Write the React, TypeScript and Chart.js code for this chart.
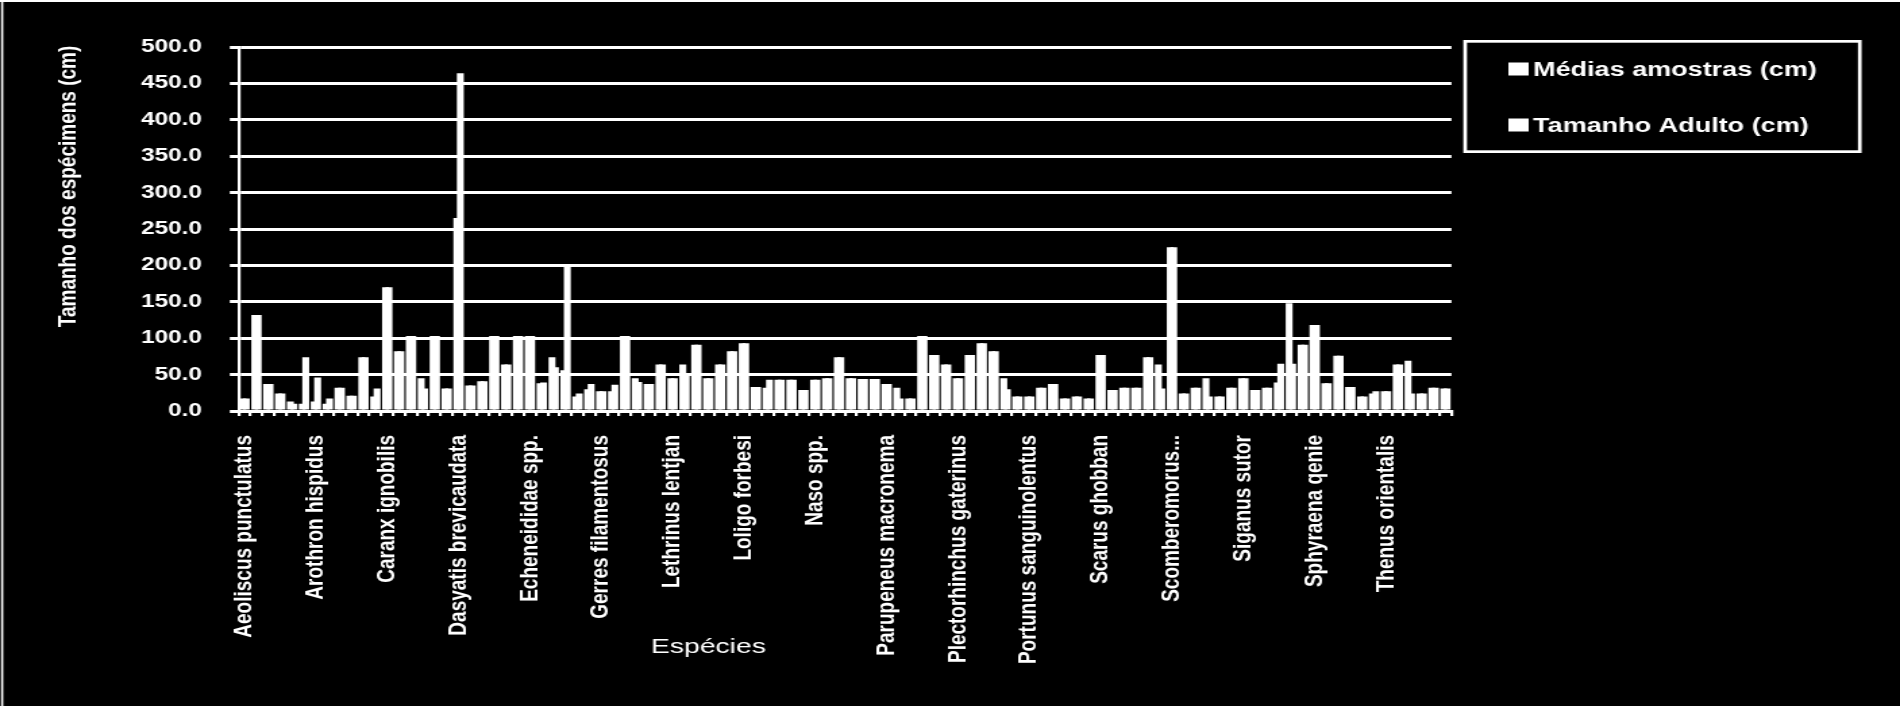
import React, { useEffect, useRef } from "react";
import { Chart, registerables } from "chart.js";

Chart.register(...registerables);

// ---- data ----
const speciesLabels = [
  "Aeoliscus punctulatus",
  "Arothron hispidus",
  "Caranx ignobilis",
  "Dasyatis brevicaudata",
  "Echeneididae spp.",
  "Gerres filamentosus",
  "Lethrinus lentjan",
  "Loligo forbesi",
  "Naso spp.",
  "Parupeneus macronema",
  "Plectorhinchus gaterinus",
  "Portunus sanguinolentus",
  "Scarus ghobban",
  "Scomberomorus...",
  "Siganus sutor",
  "Sphyraena qenie",
  "Thenus orientalis",
];
const labelEvery = 6;

const mediasAmostras = [
  17, 132, 37, 24, 13, 10, 13, 10, 32, 21,
  74, 20, 170, 82, 103, 45, 103, 31, 265, 35,
  41, 103, 64, 103, 103, 38, 74, 56, 20, 30,
  27, 27, 103, 45, 37, 64, 45, 64, 91, 45,
  64, 82, 93, 33, 32, 43, 43, 29, 43, 45,
  74, 45, 44, 44, 37, 32, 17, 103, 77, 64,
  45, 77, 93, 82, 45, 20, 20, 32, 37, 17,
  20, 17, 77, 29, 32, 32, 74, 64, 225, 24,
  32, 45, 20, 32, 45, 29, 32, 39, 148, 91,
  118, 38, 76, 33, 20, 24, 27, 64, 69, 24,
  32, 31,
];
const tamanhoAdulto = [
  17, 132, 37, 24, 10, 74, 46, 17, 32, 21,
  74, 31, 170, 82, 103, 31, 103, 31, 464, 35,
  41, 103, 64, 103, 103, 39, 60, 198, 24, 37,
  27, 36, 103, 40, 37, 64, 45, 50, 91, 45,
  64, 82, 93, 33, 43, 43, 43, 29, 43, 45,
  74, 45, 44, 44, 37, 17, 17, 103, 77, 64,
  45, 77, 93, 82, 30, 20, 20, 32, 37, 17,
  20, 17, 77, 29, 32, 32, 74, 31, 225, 24,
  32, 20, 20, 32, 45, 29, 32, 65, 65, 91,
  118, 38, 76, 33, 20, 27, 27, 64, 24, 24,
  32, 31,
];
const seriesNames = ["Médias amostras (cm)", "Tamanho Adulto (cm)"];
const yTitle = "Tamanho dos espécimens (cm)";
const xTitle = "Espécies";
const yMin = 0;
const yMax = 500;
const yStep = 50;

// ---- layout (logical canvas px; canvas is stretched horizontally by CSS) ----
const FULL_W = 1900;
const FULL_H = 708;
const STRETCH = 1.35;
const W = Math.round(FULL_W / STRETCH);
const FONT = "'Liberation Sans', Arial, Helvetica, sans-serif";
const PLOT_LEFT = 176.7;
const PLOT_RIGHT = 1074.8;
const PLOT_TOP = 47;
const PLOT_BOTTOM = 411;

const categories = mediasAmostras.map((_, i) =>
  i % labelEvery === 0 && speciesLabels[i / labelEvery] ? speciesLabels[i / labelEvery] : ""
);

const decorPlugin = {
  id: "decor",
  afterDraw(chart: any) {
    const ctx: CanvasRenderingContext2D = chart.ctx;
    ctx.save();
    ctx.fillStyle = "#ffffff";
    ctx.strokeStyle = "#ffffff";
    // outer frame
    ctx.fillRect(0.8, 0, 1.6, FULL_H);
    ctx.fillRect(0, 0, W, 2);
    ctx.fillRect(0, FULL_H - 2, W, 2);

    // x title
    ctx.font = `21px ${FONT}`;
    ctx.textAlign = "left";
    ctx.textBaseline = "alphabetic";
    ctx.fillText(xTitle, 482, 653);

    // y title
    ctx.save();
    ctx.translate(56, 186.5);
    ctx.rotate(-Math.PI / 2);
    ctx.font = `bold 19px ${FONT}`;
    ctx.textAlign = "center";
    ctx.textBaseline = "alphabetic";
    ctx.fillText(yTitle, 0, 0);
    ctx.restore();

    // legend
    ctx.lineWidth = 2.7;
    ctx.strokeRect(1085, 41.35, 292.2, 110.3);
    ctx.font = `bold 20px ${FONT}`;
    ctx.textAlign = "left";
    const baselines = [76, 132];
    chart.data.datasets.forEach((ds: any, k: number) => {
      const b = baselines[k];
      ctx.fillStyle = ds.backgroundColor;
      ctx.fillRect(1117, b - 13.5, 15, 13);
      ctx.fillStyle = "#ffffff";
      ctx.fillText(ds.label, 1135.3, b);
    });
    ctx.restore();
  },
};

export default function App() {
  const ref = useRef<HTMLCanvasElement | null>(null);

  useEffect(() => {
    document.body.style.margin = "0";
    document.body.style.background = "#000";
    const canvas = ref.current;
    if (!canvas) return;
    const chart = new Chart(canvas, {
      type: "bar",
      data: {
        labels: categories,
        datasets: [
          {
            label: seriesNames[0],
            data: mediasAmostras,
            backgroundColor: "#ffffff",
            borderWidth: 0,
            categoryPercentage: 0.58,
            barPercentage: 2.0,
          },
          {
            label: seriesNames[1],
            data: tamanhoAdulto,
            backgroundColor: "#ffffff",
            borderWidth: 0,
            categoryPercentage: 0.58,
            barPercentage: 2.0,
          },
        ],
      },
      options: {
        responsive: false,
        animation: false,
        devicePixelRatio: 1,
        layout: {
          padding: { top: PLOT_TOP, right: W - PLOT_RIGHT, bottom: 0, left: 0 },
        },
        plugins: {
          legend: { display: false },
          tooltip: { enabled: false },
          title: { display: false },
        },
        scales: {
          x: {
            type: "category",
            offset: true,
            grid: {
              display: true,
              offset: true,
              drawOnChartArea: false,
              drawTicks: true,
              tickLength: 5,
              color: "#ffffff",
              lineWidth: 2.2,
            },
            border: { display: true, color: "#ffffff", width: 3 },
            ticks: {
              autoSkip: false,
              minRotation: 90,
              maxRotation: 90,
              padding: 19,
              color: "#ffffff",
              font: { family: FONT, size: 19, weight: "bold" },
              callback: (_v: any, i: number) => categories[i],
            },
            afterFit: (s: any) => {
              s.height = FULL_H - PLOT_BOTTOM;
            },
          },
          y: {
            min: yMin,
            max: yMax,
            ticks: {
              stepSize: yStep,
              padding: 20.6,
              color: "#ffffff",
              font: { family: FONT, size: 18, weight: "bold" },
              callback: (v: any) => Number(v).toFixed(1),
            },
            grid: {
              color: "#ffffff",
              lineWidth: 3,
              tickLength: 6.5,
              drawTicks: true,
            },
            border: { display: true, color: "#ffffff", width: 2.2 },
            afterFit: (s: any) => {
              s.width = PLOT_LEFT;
            },
          },
        },
      },
      plugins: [decorPlugin],
    } as any);
    return () => chart.destroy();
  }, []);

  return (
    <div style={{ width: FULL_W, height: FULL_H, background: "#000", overflow: "hidden" }}>
      <canvas
        ref={ref}
        width={W}
        height={FULL_H}
        style={{ width: FULL_W + "px", height: FULL_H + "px", display: "block" }}
      />
    </div>
  );
}
